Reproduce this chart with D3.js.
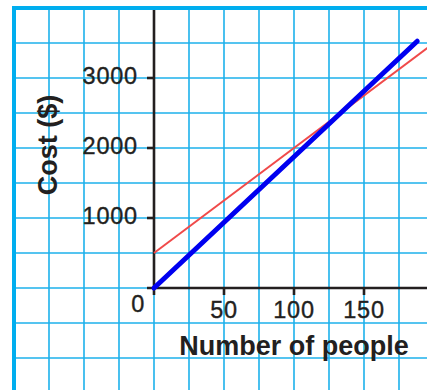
<!DOCTYPE html>
<html>
<head>
<meta charset="utf-8">
<script src="https://cdn.jsdelivr.net/npm/d3@7"></script>
<style>
  html, body { margin: 0; padding: 0; background: #ffffff; }
  svg { display: block; }
  text { font-family: "Liberation Sans", Arial, Helvetica, sans-serif; fill: #231f20; }
</style>
</head>
<body>
<svg id="chart" width="427" height="390"></svg>
<script>
// ---- data ----
const xTicks = [50, 100, 150];
const xTickLabels = ["50", "100", "150"];
const yTicks = [1000, 2000, 3000];
const yTickLabels = ["1000", "2000", "3000"];
const originLabel = "0";
const xTitle = "Number of people";
const yTitle = "Cost ($)";
// red line: cost = 500 + 15 * people
const redPeople = [0, 200];
const redCost = [500, 3500];
// blue line: cost = 18.75 * people
const bluePeople = [0, 188];
const blueCost = [0, 3525];
// grid every 25 people / 500 dollars
const gridX = d3.range(-100, 200, 25);
const gridY = d3.range(-1500, 4001, 500);

const W = 427, H = 390;
const svg = d3.select("#chart");

const x = d3.scaleLinear().domain([0, 50]).range([154, 224]);
const y = d3.scaleLinear().domain([0, 1000]).range([288, 218]);

const gridColor = "#1cb1eb";
const axisColor = "#231f20";

// grid
svg.append("g").selectAll("line").data(gridX).join("line")
  .attr("x1", d => x(d)).attr("x2", d => x(d))
  .attr("y1", y(4000)).attr("y2", H)
  .attr("stroke", gridColor).attr("stroke-width", 1.6);
svg.append("g").selectAll("line").data(gridY).join("line")
  .attr("y1", d => y(d)).attr("y2", d => y(d))
  .attr("x1", x(-100)).attr("x2", W)
  .attr("stroke", gridColor).attr("stroke-width", 1.6);

// border (top and left)
svg.append("line").attr("x1", x(-100)).attr("x2", W).attr("y1", y(4000)).attr("y2", y(4000))
  .attr("stroke", "#00aeef").attr("stroke-width", 4);
svg.append("line").attr("x1", x(-100)).attr("x2", x(-100)).attr("y1", y(4000) - 2).attr("y2", H)
  .attr("stroke", "#00aeef").attr("stroke-width", 4);

// axes
const axes = svg.append("g").attr("stroke", axisColor).attr("stroke-width", 2.6);
axes.append("line").attr("x1", x(0)).attr("x2", x(0)).attr("y1", y(4000) + 2).attr("y2", y(0) + 7);
axes.append("line").attr("x1", x(0) - 7).attr("x2", W).attr("y1", y(0)).attr("y2", y(0));
axes.selectAll(".xt").data(xTicks).join("line")
  .attr("x1", d => x(d)).attr("x2", d => x(d)).attr("y1", y(0)).attr("y2", y(0) + 7);
axes.selectAll(".yt").data(yTicks).join("line")
  .attr("x1", x(0) - 7).attr("x2", x(0)).attr("y1", d => y(d)).attr("y2", d => y(d));

// tick labels
const tickStyle = sel => sel.attr("font-size", 23.5).attr("letter-spacing", 0.8)
  .attr("stroke", "#231f20").attr("stroke-width", 0.35);
svg.append("g").selectAll("text").data(yTicks).join("text")
  .attr("x", x(0) - 16).attr("y", d => y(d) + 6)
  .attr("text-anchor", "end").call(tickStyle)
  .text((d, i) => yTickLabels[i]);
svg.append("g").selectAll("text").data(xTicks).join("text")
  .attr("x", d => x(d)).attr("y", y(0) + 30)
  .attr("text-anchor", "middle").call(tickStyle)
  .text((d, i) => xTickLabels[i]);
svg.append("text").attr("x", x(0) - 9).attr("y", y(0) + 24)
  .attr("text-anchor", "end").call(tickStyle).text(originLabel);

// titles
svg.append("text").attr("x", x(100)).attr("y", 355)
  .attr("text-anchor", "middle").attr("font-size", 27).attr("font-weight", "bold")
  .text(xTitle);
svg.append("text").attr("transform", "translate(57,145) rotate(-90)")
  .attr("text-anchor", "middle").attr("font-size", 27).attr("font-weight", "bold")
  .text(yTitle);

// lines
const line = d3.line().x(d => x(d[0])).y(d => y(d[1]));
svg.append("path").datum(redPeople.map((p, i) => [p, redCost[i]]))
  .attr("d", line).attr("fill", "none").attr("stroke", "#f04a4a").attr("stroke-width", 2);
svg.append("path").datum(bluePeople.map((p, i) => [p, blueCost[i]]))
  .attr("d", line).attr("fill", "none").attr("stroke", "#0000f0")
  .attr("stroke-width", 5).attr("stroke-linecap", "round");
</script>
</body>
</html>
